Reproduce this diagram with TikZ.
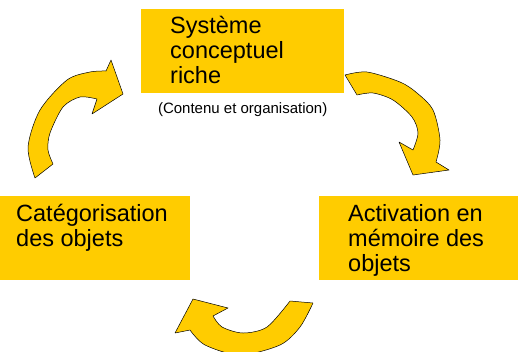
\documentclass[tikz,border=0pt]{standalone}
\usepackage{fontspec}
\setmainfont{Liberation Sans}
\usetikzlibrary{positioning}
\definecolor{gold}{RGB}{255,204,0}
\tikzset{
  box/.style={rectangle, fill=gold, inner sep=0pt, anchor=north west},
  boxtext/.style={align=left, inner sep=0pt, anchor=base west,
    font={\fontsize{23.5}{25}\selectfont}},
  caption/.style={inner sep=0pt, font={\fontsize{15}{18}\selectfont}},
  curvedArrow/.style={fill=gold, draw=black, line width=0.5pt, line join=round}
}
\begin{document}
\begin{tikzpicture}[x=1pt, y=-1pt]
  \useasboundingbox (0,0) rectangle (518,351);
  % the three boxes
  \node [box, minimum width=203pt, minimum height=84pt] (sysbox) at (141,9) {};
  \node [box, minimum width=190pt, minimum height=84pt] (catbox) at (0,196) {};
  \node [box, minimum width=199pt, minimum height=84pt] (actbox) at (319,196) {};
  % base = last line
  \node [boxtext] (systxt) at ([xshift=29pt, yshift=-74pt]sysbox.north west) {Système\\conceptuel\\riche};
  \node [boxtext] (cattxt) at ([xshift=16pt, yshift=-50pt]catbox.north west) {Catégorisation\\des objets};
  \node [boxtext] (acttxt) at ([xshift=29pt, yshift=-75pt]actbox.north west) {Activation en\\mémoire des\\objets};
  \node [caption, below=9pt of sysbox] (syscap) {(Contenu et organisation)};
  % curved arrows
  \draw [curvedArrow] plot [smooth] coordinates {(35,178) (28,147) (40,110) (67,80) (90,72) (106,71)}
    -- (111,60) -- (123,94) -- (92,114)
    -- plot [smooth] coordinates {(97,99) (80,97) (63,107) (50,133) (48,150) (53,164)} -- cycle;
  \draw [curvedArrow] plot [smooth] coordinates {(345,75) (367,72) (400,82) (417,93) (433,110) (440,140) (436,162)}
    -- (449,170) -- (413,175) -- (399,142)
    -- plot [smooth] coordinates {(413,150) (418,133) (412,117) (393,100) (373,93) (357,95)} -- cycle;
  \draw [curvedArrow] plot [smooth] coordinates {(313,303) (300,327) (280,345) (240,355) (205,345) (190,330)}
    -- (175,333) -- (193,299) -- (228,308)
    -- plot [smooth] coordinates {(213,316) (222,327) (243,333) (267,327) (290,301)} -- cycle;
\end{tikzpicture}
\end{document}
